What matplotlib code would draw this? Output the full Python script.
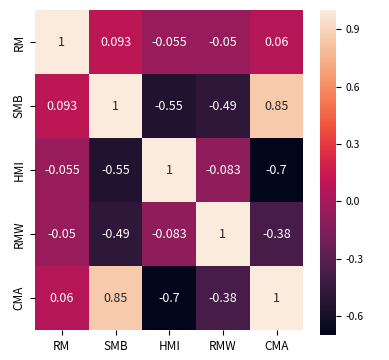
import numpy as np
import matplotlib
matplotlib.use("Agg")
import matplotlib.pyplot as plt
import seaborn as sns

factors = ["RM", "SMB", "HMI", "RMW", "CMA"]
row_rm = [1, 0.093, -0.055, -0.05, 0.06]
row_smb = [0.093, 1, -0.55, -0.49, 0.85]
row_hmi = [-0.055, -0.55, 1, -0.083, -0.7]
row_rmw = [-0.05, -0.49, -0.083, 1, -0.38]
row_cma = [0.06, 0.85, -0.7, -0.38, 1]

corr = np.array([row_rm, row_smb, row_hmi, row_rmw, row_cma])

plt.rcParams['font.family'] = ['Noto Sans CJK SC', 'DejaVu Sans']
plt.rcParams['axes.unicode_minus'] = False

fig = plt.figure(figsize=(3.89, 3.6), dpi=100)
ax = fig.add_axes([0.09, 0.083, 0.69, 0.889])
cax = fig.add_axes([0.823, 0.069, 0.041, 0.903])

sns.heatmap(corr, annot=True, ax=ax, cbar_ax=cax, cmap="rocket",
            xticklabels=factors, yticklabels=factors,
            annot_kws={"fontsize": 9})
ax.tick_params(labelsize=8.5)
cax.tick_params(labelsize=7.5)
cax.set_yticks([0.9, 0.6, 0.3, 0.0, -0.3, -0.6])
cax.set_yticklabels(["0.9", "0.6", "0.3", "0.0", "-0.3", "-0.6"])

fig.savefig("out.png", dpi=100)
